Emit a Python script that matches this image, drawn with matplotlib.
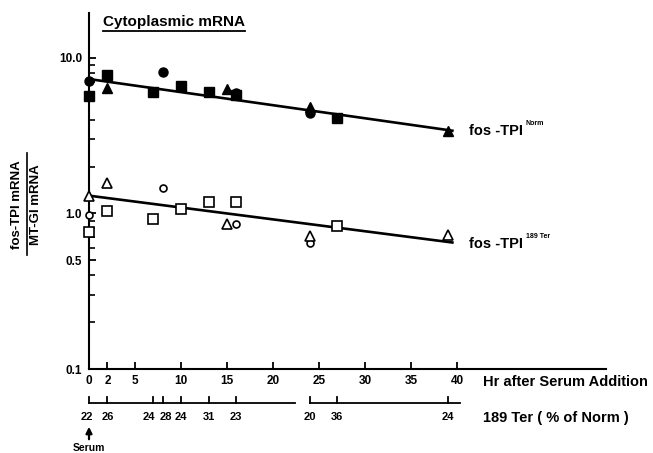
import matplotlib
matplotlib.use("Agg")
import matplotlib.pyplot as plt
from matplotlib.transforms import blended_transform_factory, offset_copy
from matplotlib.ticker import LogLocator, NullFormatter, FixedLocator
import matplotlib.lines as mlines

plt.rcParams['font.family'] = ['Liberation Sans', 'DejaVu Sans']
plt.rcParams['font.weight'] = 'bold'

# ---- data ----
# fos-TPI Norm (filled symbols)
norm_sq_t = [0, 2, 7, 10, 13, 16, 27]
norm_sq_v = [5.7, 7.8, 6.05, 6.6, 6.05, 5.8, 4.1]
norm_ci_t = [0, 8, 16, 24]
norm_ci_v = [7.1, 8.1, 5.9, 4.4]
norm_tr_t = [2, 15, 24, 39]
norm_tr_v = [6.4, 6.3, 4.8, 3.4]
# fos-TPI 189 Ter (open symbols)
ter_sq_t = [0, 2, 7, 10, 13, 16, 27]
ter_sq_v = [0.755, 1.04, 0.915, 1.06, 1.19, 1.18, 0.83]
ter_ci_t = [0, 8, 16, 24]
ter_ci_v = [0.97, 1.45, 0.86, 0.65]
ter_tr_t = [0, 2, 15, 24, 39]
ter_tr_v = [1.30, 1.56, 0.85, 0.72, 0.73]
# regression lines
line_t = [0, 39.5]
norm_line = [7.3, 3.4]
ter_line = [1.30, 0.65]
# axes ticks
hour_ticks = [0, 2, 5, 10, 15, 20, 25, 30, 35, 40]
y_ticks = [0.1, 0.5, 1.0, 10.0]
y_labels = ['0.1', '0.5', '1.0', '10.0']
# secondary scale: 189 Ter (% of Norm)
pct_t = [0, 2, 7, 8, 10, 13, 16, 24, 27, 39]
pct_labels = ['22', '26', '24', '28', '24', '31', '23', '20', '36', '24']
pct_segments = [(0, 22.4), (24, 40.3)]
# small horizontal label nudges (pixels) so crowded labels do not collide
pct_nudge = [-2, 0, -5, 3, 0, 0, 0, 0, 0, 0]

W, H = 653, 453
fig = plt.figure(figsize=(W / 100, H / 100), dpi=100)
ax_l, ax_r, ax_t, ax_b = 89, 606, 13, 369
ax = fig.add_axes([ax_l / W, 1 - ax_b / H, (ax_r - ax_l) / W, (ax_b - ax_t) / H])
ax.set_yscale('log')
ax.set_ylim(0.1, 19.4)
ax.set_xlim(0, 56.2)
for s in ['top', 'right']:
    ax.spines[s].set_visible(False)
for s in ['left', 'bottom']:
    ax.spines[s].set_linewidth(1.5)

ax.set_xticks(hour_ticks)
ax.set_xticklabels([str(h) for h in hour_ticks], fontsize=8.5, fontweight='bold')
ax.tick_params(axis='x', direction='in', length=5, width=1.3, pad=4)
ax.yaxis.set_major_locator(FixedLocator(y_ticks))
ax.set_yticklabels(y_labels, fontsize=8.5, fontweight='bold')
ax.yaxis.set_minor_locator(LogLocator(base=10, subs=[2, 3, 4, 6, 7, 8, 9]))
ax.yaxis.set_minor_formatter(NullFormatter())
ax.tick_params(axis='y', which='major', direction='in', length=5, width=1.3, pad=5)
ax.tick_params(axis='y', which='minor', direction='in', length=4, width=1.2)

# lines
ax.plot(line_t, norm_line, color='black', lw=1.9, zorder=2)
ax.plot(line_t, ter_line, color='black', lw=1.9, zorder=2)

kw = dict(linestyle='none', color='black', clip_on=False, zorder=3)
ax.plot(norm_sq_t, norm_sq_v, marker='s', markersize=7.5, **kw)
ax.plot(norm_ci_t, norm_ci_v, marker='o', markersize=6.5, **kw)
ax.plot(norm_tr_t, norm_tr_v, marker='^', markersize=7, **kw)
okw = dict(linestyle='none', markerfacecolor='white', markeredgecolor='black',
           markeredgewidth=1.2, clip_on=False, zorder=3)
ax.plot(ter_sq_t, ter_sq_v, marker='s', markersize=7, **okw)
ax.plot(ter_ci_t, ter_ci_v, marker='o', markersize=5, **okw)
ax.plot(ter_tr_t, ter_tr_v, marker='^', markersize=6.5, **okw)

# curve labels
t1 = ax.text(41.3, norm_line[1], 'fos -TPI', fontsize=10.5, fontweight='bold',
             ha='left', va='center')
ax.annotate('Norm', xy=(1.0, 0.75), xycoords=t1, xytext=(2, 0),
            textcoords='offset points', fontsize=5, fontweight='bold', va='bottom')
t2 = ax.text(41.3, ter_line[1] * 0.985, 'fos -TPI', fontsize=10.5, fontweight='bold',
             ha='left', va='center')
ax.annotate('189 Ter', xy=(1.0, 0.75), xycoords=t2, xytext=(2, 0),
            textcoords='offset points', fontsize=5, fontweight='bold', va='bottom')

# title
fig.text(103 / W, 1 - 22 / H, 'Cytoplasmic mRNA', fontsize=11, fontweight='bold',
         ha='left', va='center')
fig.add_artist(mlines.Line2D([103 / W, 245 / W], [1 - 30.5 / H, 1 - 30.5 / H],
                             color='black', lw=1.3))

# y label as fraction
fig.text(17 / W, 1 - 205 / H, 'fos-TPI mRNA', rotation=90, fontsize=9.5,
         fontweight='bold', ha='center', va='center')
fig.text(36 / W, 1 - 205 / H, 'MT-GI mRNA', rotation=90, fontsize=9.5,
         fontweight='bold', ha='center', va='center')
fig.add_artist(mlines.Line2D([26.5 / W, 26.5 / W], [1 - 153 / H, 1 - 255 / H],
                             color='black', lw=1.2))

# x axis label
fig.text(483 / W, 1 - 382 / H, 'Hr after Serum Addition', fontsize=10.5,
         fontweight='bold', ha='left', va='center')

# secondary percent scale
tr = blended_transform_factory(ax.transData, ax.transAxes)
def fy(py):
    return (ax_b - py) / (ax_b - ax_t)
for a, b in pct_segments:
    ax.plot([a, b], [fy(403), fy(403)], color='black', lw=1.3, transform=tr, clip_on=False)
for t, lab, dx in zip(pct_t, pct_labels, pct_nudge):
    ax.plot([t, t], [fy(403), fy(397)], color='black', lw=1.3, transform=tr, clip_on=False)
    ax.text(t, fy(417), lab, transform=offset_copy(tr, fig=fig, x=dx * 0.72, units='points'),
            fontsize=8, fontweight='bold', ha='center', va='center')
fig.text(483 / W, 1 - 418 / H, '189 Ter ( % of Norm )', fontsize=10.5,
         fontweight='bold', ha='left', va='center')

# serum arrow
ax.annotate('', xy=(0, fy(424)), xytext=(0, fy(442)), xycoords=tr, textcoords=tr,
            arrowprops=dict(arrowstyle='-|>', color='black', lw=1.6, mutation_scale=9))
ax.text(0, fy(448), 'Serum', transform=tr, fontsize=7.5, fontweight='bold',
        ha='center', va='center')

fig.savefig('out.png', dpi=100)
